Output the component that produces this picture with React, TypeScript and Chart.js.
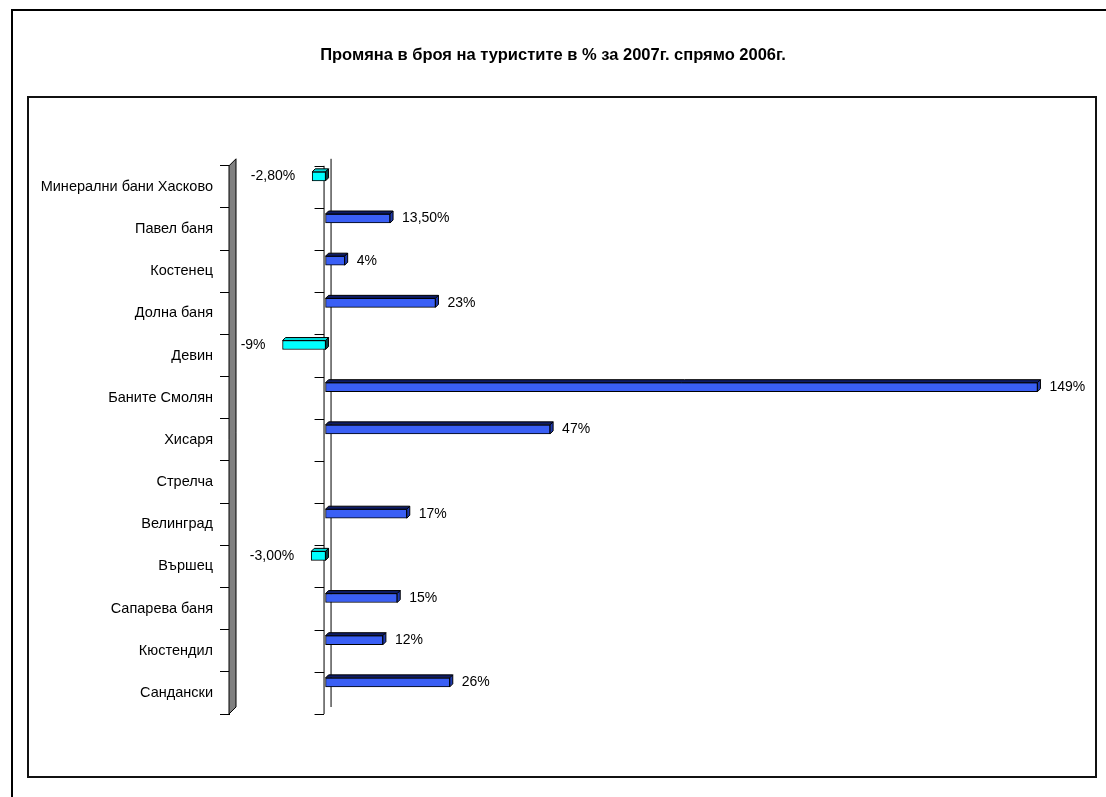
import { useEffect, useRef } from 'react';
import { Chart, registerables } from 'chart.js';

Chart.register(...registerables);

const TITLE = 'Промяна в броя на туристите в % за 2007г. спрямо 2006г.';
const categories = [
  'Минерални бани Хасково',
  'Павел баня',
  'Костенец',
  'Долна баня',
  'Девин',
  'Баните Смолян',
  'Хисаря',
  'Стрелча',
  'Велинград',
  'Вършец',
  'Сапарева баня',
  'Кюстендил',
  'Сандански',
];
const changes: (number | null)[] = [-2.8, 13.5, 4, 23, -9, 149, 47, null, 17, -3, 15, 12, 26];
const valueLabels = ['-2,80%', '13,50%', '4%', '23%', '-9%', '149%', '47%', '', '17%', '-3,00%', '15%', '12%', '26%'];

const FONT = '"Liberation Sans", Arial, sans-serif';
const POS_FRONT = '#3A5FF5';
const POS_TOP = '#0E1C66';
const POS_SIDE = '#1E3AB0';
const NEG_FRONT = '#00FFFF';
const NEG_TOP = '#00D8D8';
const NEG_SIDE = '#004848';
const DEPTH = 3;

const framePlugin = {
  id: 'frame',
  beforeDraw(chart: any) {
    const { ctx, width, height } = chart;
    ctx.save();
    ctx.fillStyle = '#fff';
    ctx.fillRect(0, 0, width, height);
    ctx.strokeStyle = '#000';
    ctx.lineWidth = 2;
    ctx.strokeRect(12, 10, width + 20, height + 20);
    ctx.lineWidth = 2;
    ctx.strokeStyle = '#111';
    ctx.strokeRect(28, 97, 1068, 680);
    ctx.restore();
  },
  beforeDatasetsDraw(chart: any) {
    const { ctx, chartArea, scales } = chart;
    const cat = scales.cat;
    const x0 = scales.x.getPixelForValue(0);
    const xl = scales.x.getPixelForValue(scales.x.min);
    const top = chartArea.top;
    const bottom = chartArea.bottom;
    ctx.save();
    ctx.beginPath();
    ctx.moveTo(xl - 1, top);
    ctx.lineTo(xl + 6, top - 7);
    ctx.lineTo(xl + 6, bottom - 7);
    ctx.lineTo(xl - 1, bottom);
    ctx.closePath();
    ctx.fillStyle = '#808080';
    ctx.fill();
    ctx.strokeStyle = '#000';
    ctx.lineWidth = 1;
    ctx.stroke();
    ctx.beginPath();
    ctx.moveTo(x0 + 5.5, top - 7);
    ctx.lineTo(x0 + 5.5, bottom - 7);
    ctx.stroke();
    ctx.beginPath();
    ctx.moveTo(x0 - 1.5, top);
    ctx.lineTo(x0 - 1.5, bottom);
    for (let k = 0; k <= categories.length; k++) {
      const yb = Math.round(cat.getPixelForValue(k - 0.5)) + 0.5;
      ctx.moveTo(x0 - 11, yb);
      ctx.lineTo(x0 - 1.5, yb);
    }
    ctx.stroke();
    ctx.restore();
  },
  afterDatasetsDraw(chart: any) {
    const { ctx } = chart;
    const meta = chart.getDatasetMeta(0);
    ctx.save();
    meta.data.forEach((el: any, i: number) => {
      const v = changes[i];
      if (v === null || v === undefined) return;
      const p = el.getProps(['x', 'y', 'base', 'height'], true);
      const xa = Math.min(p.x, p.base);
      const xb = Math.max(p.x, p.base);
      const yt = p.y - p.height / 2;
      const yb = p.y + p.height / 2;
      const neg = v < 0;
      ctx.lineWidth = 1;
      ctx.strokeStyle = '#000';
      ctx.beginPath();
      ctx.moveTo(xa, yt);
      ctx.lineTo(xa + DEPTH, yt - DEPTH);
      ctx.lineTo(xb + DEPTH, yt - DEPTH);
      ctx.lineTo(xb, yt);
      ctx.closePath();
      ctx.fillStyle = neg ? NEG_TOP : POS_TOP;
      ctx.fill();
      ctx.stroke();
      ctx.beginPath();
      ctx.moveTo(xb, yt);
      ctx.lineTo(xb + DEPTH, yt - DEPTH);
      ctx.lineTo(xb + DEPTH, yb - DEPTH);
      ctx.lineTo(xb, yb);
      ctx.closePath();
      ctx.fillStyle = neg ? NEG_SIDE : POS_SIDE;
      ctx.fill();
      ctx.stroke();
      ctx.fillStyle = '#000';
      ctx.font = '14px ' + FONT;
      ctx.textBaseline = 'middle';
      if (neg) {
        ctx.textAlign = 'right';
        ctx.fillText(valueLabels[i], xa - 17, p.y);
      } else {
        ctx.textAlign = 'left';
        ctx.fillText(valueLabels[i], xb + DEPTH + 9, p.y);
      }
    });
    ctx.restore();
  },
};

export default function App() {
  const ref = useRef<HTMLCanvasElement>(null);
  useEffect(() => {
    if (!ref.current) return;
    const chart = new Chart(ref.current, {
      type: 'bar',
      data: {
        datasets: [
          {
            data: changes.map((v, i) => ({ x: v, y: i })) as any,
            yAxisID: 'y',
            xAxisID: 'x',
            backgroundColor: changes.map((v) => (v !== null && v < 0 ? NEG_FRONT : POS_FRONT)),
            borderColor: '#000',
            borderWidth: 1,
            borderSkipped: false,
            barThickness: 9,
          } as any,
        ],
      },
      options: {
        indexAxis: 'y',
        animation: false,
        responsive: false,
        devicePixelRatio: 1,
        layout: { padding: { left: 16, right: 16, top: 0, bottom: 83 } },
        plugins: {
          legend: { display: false },
          tooltip: { enabled: false },
          title: {
            display: true,
            text: TITLE,
            color: '#000',
            font: { family: FONT, size: 16.5, weight: 'bold' },
            padding: { top: 46, bottom: 100 },
          },
        },
        scales: {
          x: { type: 'linear', min: -20, max: 160, display: false, offset: false },
          y: {
            type: 'linear',
            min: -0.25,
            max: 12.75,
            reverse: true,
            display: false,
            offset: false,
            grid: { offset: false },
          },
          cat: {
            type: 'category',
            axis: 'y',
            position: 'left',
            labels: categories,
            offset: true,
            grid: { offset: true, drawOnChartArea: false, tickLength: 10, color: '#000', lineWidth: 1 },
            border: { display: false },
            ticks: { color: '#000', font: { family: FONT, size: 14.5 }, padding: 7, autoSkip: false },
            afterFit: (s: any) => {
              s.width = 214;
            },
          } as any,
        },
      } as any,
      plugins: [framePlugin],
    });
    return () => chart.destroy();
  }, []);
  return (
    <div style={{ position: 'absolute', left: 0, top: 0, width: 1106, height: 797 }}>
      <canvas ref={ref} width={1106} height={797} style={{ display: 'block' }} />
    </div>
  );
}
